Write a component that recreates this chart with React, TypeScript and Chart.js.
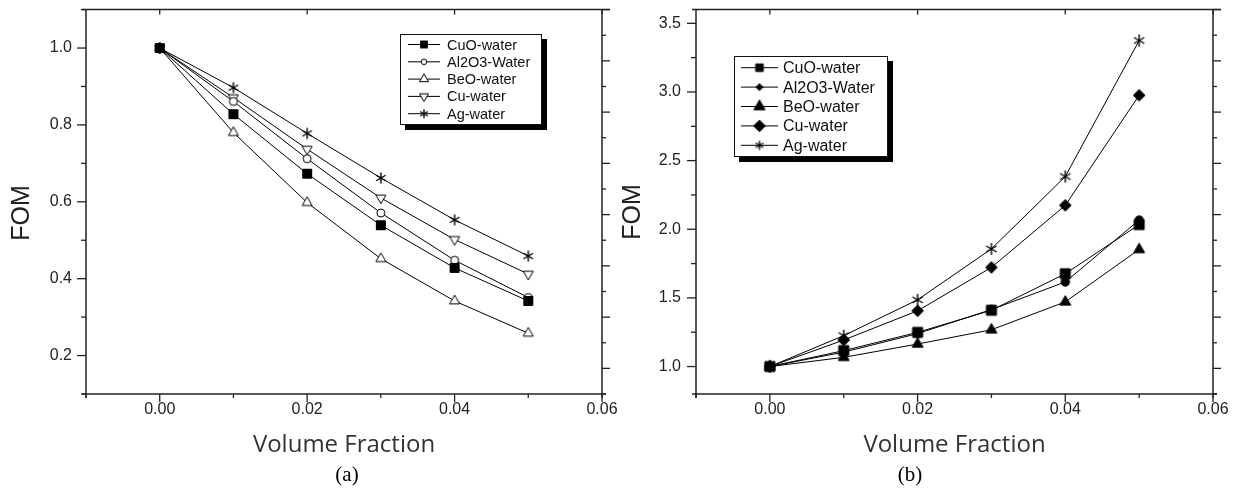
import React, { useEffect, useRef } from 'react';
import { Chart, registerables } from 'chart.js';

Chart.register(...registerables);

// ---------- data ----------
const volumeFraction = [0, 0.01, 0.02, 0.03, 0.04, 0.05];
const seriesNames = ['CuO-water', 'Al2O3-Water', 'BeO-water', 'Cu-water', 'Ag-water'];

// panel (a)
const fomA_CuO = [1.0, 0.828, 0.673, 0.539, 0.428, 0.342];
const fomA_Al2O3 = [1.0, 0.861, 0.712, 0.571, 0.448, 0.351];
const fomA_BeO = [1.0, 0.78, 0.598, 0.452, 0.342, 0.258];
const fomA_Cu = [1.0, 0.871, 0.737, 0.61, 0.502, 0.412];
const fomA_Ag = [1.0, 0.897, 0.778, 0.662, 0.553, 0.459];

// panel (b)
const fomB_CuO = [1.0, 1.116, 1.249, 1.41, 1.676, 2.034];
const fomB_Al2O3 = [1.0, 1.105, 1.24, 1.415, 1.616, 2.067];
const fomB_BeO = [1.0, 1.067, 1.164, 1.268, 1.471, 1.853];
const fomB_Cu = [1.0, 1.193, 1.406, 1.722, 2.174, 2.976];
const fomB_Ag = [1.0, 1.225, 1.486, 1.857, 2.384, 3.375];

// tick labels
const xMajorTicks = [0, 0.02, 0.04, 0.06];
const yMajorTicksA = [0.2, 0.4, 0.6, 0.8, 1.0];
const yMajorTicksB = [1.0, 1.5, 2.0, 2.5, 3.0, 3.5];

const axisTitleX = 'Volume Fraction';
const axisTitleY = 'FOM';
const captions = ['(a)', '(b)'];

// ---------- markers ----------
type Kind = 'square' | 'circleOpen' | 'triUpOpen' | 'triDownOpen' | 'star' | 'circle' | 'triUp' | 'diamond';

function makeMarker(kind: Kind, r: number): HTMLCanvasElement {
  const size = 2 * Math.ceil(r) + 4;
  const c = document.createElement('canvas');
  c.width = size;
  c.height = size;
  const ctx = c.getContext('2d')!;
  const cx = size / 2;
  const cy = size / 2;
  ctx.strokeStyle = '#000';
  ctx.fillStyle = '#000';
  ctx.lineWidth = 1;
  ctx.beginPath();
  const open = kind === 'circleOpen' || kind === 'triUpOpen' || kind === 'triDownOpen';
  switch (kind) {
    case 'square':
      ctx.rect(cx - r, cy - r, 2 * r, 2 * r);
      break;
    case 'circle':
    case 'circleOpen':
      ctx.arc(cx, cy, r, 0, Math.PI * 2);
      break;
    case 'triUp':
    case 'triUpOpen':
      ctx.moveTo(cx, cy - r);
      ctx.lineTo(cx + r * 0.866, cy + r * 0.5);
      ctx.lineTo(cx - r * 0.866, cy + r * 0.5);
      ctx.closePath();
      break;
    case 'triDownOpen':
      ctx.moveTo(cx, cy + r);
      ctx.lineTo(cx + r * 0.866, cy - r * 0.5);
      ctx.lineTo(cx - r * 0.866, cy - r * 0.5);
      ctx.closePath();
      break;
    case 'diamond':
      ctx.moveTo(cx, cy - r);
      ctx.lineTo(cx + r, cy);
      ctx.lineTo(cx, cy + r);
      ctx.lineTo(cx - r, cy);
      ctx.closePath();
      break;
    case 'star': {
      ctx.lineWidth = 1.4;
      [90, 30, 150].forEach((deg) => {
        const a = (deg * Math.PI) / 180;
        ctx.moveTo(cx + Math.cos(a) * r, cy - Math.sin(a) * r);
        ctx.lineTo(cx - Math.cos(a) * r, cy + Math.sin(a) * r);
      });
      ctx.stroke();
      return c;
    }
  }
  if (open) {
    ctx.fillStyle = '#fff';
    ctx.fill();
    ctx.stroke();
  } else {
    ctx.fill();
    ctx.stroke();
  }
  return c;
}

// ---------- panels ----------
interface Panel {
  series: number[][];
  plotMarkers: [Kind, number][];
  legendMarkers: [Kind, number][];
  yMin: number;
  yMax: number;
  yStep: number;
  yMajors: number[];
  leftWidth: number;
  rightWidth: number;
  yLabelPad: number;
  yTitleX: number;
  yTitleY: number;
  legend: { x: number; y: number; w: number; h: number; rowY: number; rowGap: number; l0: number; l1: number; tx: number; font: number };
}

const panels: Panel[] = [
  {
    series: [fomA_CuO, fomA_Al2O3, fomA_BeO, fomA_Cu, fomA_Ag],
    plotMarkers: [['square', 4.5], ['circleOpen', 4], ['triUpOpen', 5.8], ['triDownOpen', 5.8], ['star', 5.5]],
    legendMarkers: [['square', 3.4], ['circleOpen', 2.8], ['triUpOpen', 5.2], ['triDownOpen', 5.2], ['star', 4.5]],
    yMin: 0.1,
    yMax: 1.1,
    yStep: 0.1,
    yMajors: yMajorTicksA,
    leftWidth: 86,
    rightWidth: 18,
    yLabelPad: 14,
    yTitleX: 22,
    yTitleY: 213,
    legend: { x: 400, y: 34, w: 142, h: 91, rowY: 44.5, rowGap: 17.3, l0: 408, l1: 440, tx: 447, font: 14.5 },
  },
  {
    series: [fomB_CuO, fomB_Al2O3, fomB_BeO, fomB_Cu, fomB_Ag],
    plotMarkers: [['square', 5], ['circle', 4.2], ['triUp', 6.3], ['diamond', 5.8], ['star', 6]],
    legendMarkers: [['square', 3.8], ['diamond', 3.5], ['triUp', 6.5], ['diamond', 5.8], ['star', 4.5]],
    yMin: 0.8,
    yMax: 3.6,
    yStep: 0.25,
    yMajors: yMajorTicksB,
    leftWidth: 76,
    rightWidth: 28,
    yLabelPad: 15,
    yTitleX: 13,
    yTitleY: 212,
    legend: { x: 114, y: 56, w: 154, h: 101, rowY: 67.7, rowGap: 19.4, l0: 121, l1: 158, tx: 163, font: 16 },
  },
];

const isMajor = (v: number, list: number[]) => list.some((m) => Math.abs(m - v) < 1e-6);
const fmt = (v: number, d: number) => (Math.round(v * Math.pow(10, d)) / Math.pow(10, d) + 0).toFixed(d).replace('-0.00', '0.00');

function buildConfig(p: Panel, key: number): any {
  const plotImgs = p.plotMarkers.map(([k, r]) => makeMarker(k, r));
  const legendImgs = p.legendMarkers.map(([k, r]) => makeMarker(k, r));

  const datasets = p.series.map((vals, i) => ({
    label: seriesNames[i],
    data: volumeFraction.map((x, j) => ({ x, y: vals[j] })),
    showLine: true,
    borderColor: '#000',
    backgroundColor: '#000',
    borderWidth: 1,
    tension: 0,
    fill: false,
    pointStyle: plotImgs[i],
    pointRadius: 5,
    pointHoverRadius: 5,
  }));

  const framePlugin = {
    id: 'originFrame' + key,
    afterDraw(chart: any) {
      const { ctx, chartArea, scales } = chart;
      const { left, right, top, bottom } = chartArea;
      ctx.save();
      ctx.strokeStyle = '#222';
      const line = (x0: number, y0: number, x1: number, y1: number) => {
        ctx.beginPath();
        ctx.moveTo(x0, y0);
        ctx.lineTo(x1, y1);
        ctx.stroke();
      };
      ctx.lineWidth = 1.5;
      line(left - 4, top, right + 8, top);
      line(left - 4, bottom, right + 4, bottom);
      line(left, top, left, bottom + 4);
      line(right, top, right, bottom + 4);

      ctx.lineWidth = 1.3;
      scales.y.ticks.forEach((t: any) => {
        const py = scales.y.getPixelForValue(t.value);
        const len = isMajor(t.value, p.yMajors) ? 9 : 5;
        line(left - len, py, left, py);
      });
      scales.x.ticks.forEach((t: any) => {
        const px = scales.x.getPixelForValue(t.value);
        const maj = isMajor(t.value, xMajorTicks);
        line(px, bottom, px, bottom + (maj ? 8 : 4));
        if (maj) line(px, top, px, top + 5);
      });
      scales.y2.ticks.forEach((t: any) => {
        const py = scales.y2.getPixelForValue(t.value);
        const maj = Math.round(t.value) % 2 === 1;
        line(right, py, right + (maj ? 8 : 4), py);
      });

      // y axis title
      ctx.save();
      ctx.translate(p.yTitleX, p.yTitleY);
      ctx.rotate(-Math.PI / 2);
      ctx.font = '25px "Liberation Sans", Arial, sans-serif';
      ctx.fillStyle = '#222';
      ctx.textAlign = 'center';
      ctx.textBaseline = 'middle';
      ctx.fillText(axisTitleY, 0, 0);
      ctx.restore();

      // legend
      const L = p.legend;
      ctx.fillStyle = '#000';
      ctx.fillRect(L.x + 5, L.y + 5, L.w, L.h);
      ctx.fillStyle = '#fff';
      ctx.fillRect(L.x, L.y, L.w, L.h);
      ctx.lineWidth = 1;
      ctx.strokeStyle = '#111';
      ctx.strokeRect(L.x + 0.5, L.y + 0.5, L.w - 1, L.h - 1);
      chart.data.datasets.forEach((ds: any, i: number) => {
        const cy = L.rowY + i * L.rowGap;
        ctx.strokeStyle = '#000';
        ctx.lineWidth = 1;
        line(L.l0, cy, L.l1, cy);
        const img = legendImgs[i];
        ctx.drawImage(img, (L.l0 + L.l1) / 2 - img.width / 2, cy - img.height / 2);
        ctx.fillStyle = '#111';
        ctx.font = `${L.font}px "Liberation Sans", Arial, sans-serif`;
        ctx.textAlign = 'left';
        ctx.textBaseline = 'middle';
        ctx.fillText(ds.label, L.tx, cy + 1);
      });
      ctx.restore();
    },
  };

  // invisible tick marks used only to offset the labels (keeps chart area padding small)
  const hiddenGrid = (len: number) => ({
    display: true,
    drawOnChartArea: false,
    drawTicks: true,
    tickLength: len,
    tickColor: 'rgba(0,0,0,0)',
    color: 'rgba(0,0,0,0)',
  });

  return {
    type: 'scatter',
    data: { datasets },
    options: {
      animation: false,
      responsive: false,
      events: [],
      layout: { padding: { top: 8, left: 0, right: 0, bottom: 0 } },
      plugins: { legend: { display: false }, tooltip: { enabled: false } },
      scales: {
        x: {
          type: 'linear',
          position: 'bottom',
          min: -0.01,
          max: 0.06,
          grid: hiddenGrid(6),
          border: { display: false },
          ticks: {
            stepSize: 0.01,
            autoSkip: false,
            maxRotation: 0,
            maxTicksLimit: 100,
            padding: 0,
            color: '#222',
            font: { family: '"Liberation Sans", Arial, sans-serif', size: 16 },
            callback: (v: any) => (isMajor(Number(v), xMajorTicks) ? fmt(Number(v), 2) : ''),
          },
          title: {
            display: true,
            text: axisTitleX,
            color: '#333',
            font: { family: '"Open Sans", sans-serif', size: 24 },
            padding: { top: 0, bottom: 31 },
          },
          afterFit: (s: any) => {
            s.height = 97;
          },
        },
        y: {
          type: 'linear',
          position: 'left',
          min: p.yMin,
          max: p.yMax,
          grid: hiddenGrid(p.yLabelPad),
          border: { display: false },
          ticks: {
            stepSize: p.yStep,
            autoSkip: false,
            maxTicksLimit: 100,
            includeBounds: false,
            padding: 0,
            color: '#222',
            font: { family: '"Liberation Sans", Arial, sans-serif', size: 16 },
            callback: (v: any) => (isMajor(Number(v), p.yMajors) ? fmt(Number(v), 1) : ''),
          },
          afterFit: (s: any) => {
            s.width = p.leftWidth;
          },
        },
        y2: {
          type: 'linear',
          position: 'right',
          min: 0,
          max: 15,
          grid: { display: false },
          border: { display: false },
          ticks: { display: false, stepSize: 1, maxTicksLimit: 100, autoSkip: false },
          afterFit: (s: any) => {
            s.width = p.rightWidth;
          },
        },
      },
    },
    plugins: [framePlugin],
  };
}

export default function App() {
  const refA = useRef<HTMLCanvasElement>(null);
  const refB = useRef<HTMLCanvasElement>(null);

  useEffect(() => {
    const refs = [refA, refB];
    const charts = panels.map((p, i) => new Chart(refs[i].current!, buildConfig(p, i)));
    return () => charts.forEach((c) => c.destroy());
  }, []);

  const capStyle: React.CSSProperties = {
    position: 'absolute',
    top: 462,
    width: 60,
    textAlign: 'center',
    fontFamily: '"Liberation Serif", "Times New Roman", serif',
    fontSize: 21,
    lineHeight: '24px',
    color: '#000',
  };

  return (
    <div style={{ position: 'fixed', left: 0, top: 0, width: 1241, height: 491, background: '#fff', overflow: 'hidden' }}>
      <canvas ref={refA} width={620} height={491} style={{ position: 'absolute', left: 0, top: 0 }} />
      <canvas ref={refB} width={621} height={491} style={{ position: 'absolute', left: 620, top: 0 }} />
      <div style={{ ...capStyle, left: 347 - 30 }}>{captions[0]}</div>
      <div style={{ ...capStyle, left: 910 - 30 }}>{captions[1]}</div>
    </div>
  );
}
